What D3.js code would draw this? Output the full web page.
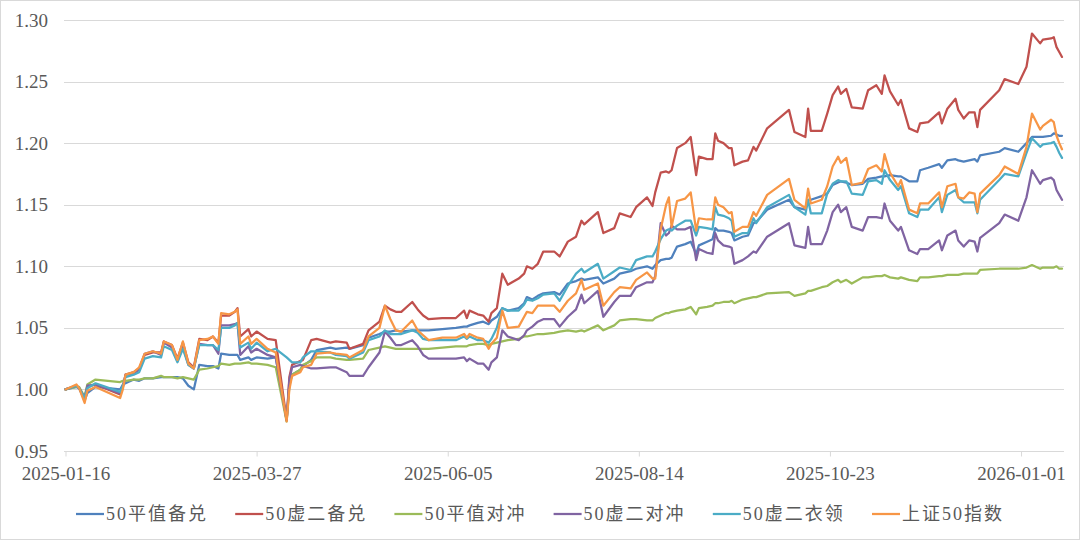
<!DOCTYPE html>
<html><head><meta charset="utf-8">
<script src="https://cdn.jsdelivr.net/npm/d3@7/dist/d3.min.js"></script>
<style>
html,body{margin:0;padding:0;background:#fff;}
svg{display:block;}
text{font-family:"Liberation Serif","Times New Roman","Noto Sans CJK SC",serif;}
</style></head>
<body>
<svg id="chart" width="1080" height="540"></svg>
<script>
const dates = ["2025-01-16","2025-01-20","2025-01-21","2025-01-23","2025-01-24","2025-01-27","2025-02-05","2025-02-06","2025-02-07","2025-02-10","2025-02-12","2025-02-14","2025-02-17","2025-02-20","2025-02-21","2025-02-24","2025-02-26","2025-02-28","2025-03-02","2025-03-04","2025-03-06","2025-03-09","2025-03-11","2025-03-13","2025-03-14","2025-03-17","2025-03-19","2025-03-20","2025-03-21","2025-03-24","2025-03-25","2025-03-27","2025-03-31","2025-04-03","2025-04-07","2025-04-08","2025-04-09","2025-04-12","2025-04-13","2025-04-16","2025-04-18","2025-04-23","2025-04-25","2025-04-29","2025-04-30","2025-05-05","2025-05-07","2025-05-11","2025-05-13","2025-05-15","2025-05-17","2025-05-19","2025-05-23","2025-05-25","2025-05-27","2025-05-29","2025-06-03","2025-06-08","2025-06-11","2025-06-12","2025-06-13","2025-06-16","2025-06-18","2025-06-20","2025-06-21","2025-06-23","2025-06-25","2025-06-27","2025-07-01","2025-07-03","2025-07-04","2025-07-06","2025-07-08","2025-07-10","2025-07-14","2025-07-16","2025-07-19","2025-07-22","2025-07-24","2025-07-25","2025-07-30","2025-08-01","2025-08-05","2025-08-07","2025-08-11","2025-08-13","2025-08-17","2025-08-19","2025-08-20","2025-08-22","2025-08-24","2025-08-25","2025-08-26","2025-08-28","2025-08-31","2025-09-02","2025-09-04","2025-09-05","2025-09-08","2025-09-10","2025-09-11","2025-09-12","2025-09-14","2025-09-16","2025-09-17","2025-09-18","2025-09-21","2025-09-23","2025-09-25","2025-09-26","2025-09-30","2025-10-08","2025-10-10","2025-10-14","2025-10-15","2025-10-16","2025-10-20","2025-10-22","2025-10-24","2025-10-26","2025-10-27","2025-10-29","2025-10-31","2025-11-04","2025-11-06","2025-11-09","2025-11-11","2025-11-12","2025-11-14","2025-11-17","2025-11-18","2025-11-21","2025-11-24","2025-11-25","2025-11-28","2025-12-02","2025-12-03","2025-12-05","2025-12-08","2025-12-09","2025-12-11","2025-12-13","2025-12-15","2025-12-16","2025-12-17","2025-12-24","2025-12-26","2025-12-31","2026-01-03","2026-01-05","2026-01-08","2026-01-09","2026-01-12","2026-01-13","2026-01-14","2026-01-15","2026-01-16"];

const pingBeidui = [1.000,1.002,1.001,0.991,0.997,1.002,1.000,1.004,1.005,1.008,1.007,1.009,1.009,1.010,1.010,1.010,1.010,1.009,1.003,1.000,1.020,1.019,1.019,1.017,1.029,1.028,1.028,1.028,1.024,1.026,1.024,1.026,1.025,1.026,0.975,1.004,1.012,1.016,1.019,1.024,1.032,1.034,1.033,1.034,1.033,1.036,1.042,1.045,1.047,1.047,1.048,1.047,1.048,1.048,1.048,1.048,1.049,1.050,1.051,1.051,1.052,1.054,1.055,1.053,1.056,1.059,1.066,1.064,1.066,1.070,1.075,1.073,1.076,1.078,1.079,1.077,1.086,1.088,1.090,1.089,1.091,1.086,1.090,1.094,1.096,1.098,1.100,1.098,1.101,1.105,1.106,1.106,1.107,1.116,1.118,1.120,1.110,1.117,1.120,1.122,1.131,1.129,1.129,1.128,1.127,1.121,1.124,1.125,1.135,1.136,1.146,1.154,1.148,1.146,1.154,1.154,1.157,1.159,1.166,1.168,1.169,1.168,1.166,1.167,1.171,1.172,1.173,1.173,1.174,1.173,1.173,1.169,1.169,1.178,1.180,1.183,1.180,1.186,1.187,1.186,1.185,1.186,1.187,1.185,1.190,1.193,1.196,1.193,1.200,1.205,1.205,1.205,1.206,1.208,1.207,1.206,1.206];

const xuBeidui = [1.000,1.003,1.001,0.993,1.002,1.004,0.996,1.002,1.012,1.014,1.017,1.028,1.030,1.030,1.039,1.036,1.025,1.038,1.022,1.018,1.041,1.040,1.043,1.038,1.060,1.060,1.063,1.066,1.043,1.049,1.043,1.047,1.041,1.040,0.975,1.010,1.020,1.023,1.024,1.040,1.041,1.038,1.039,1.038,1.033,1.037,1.048,1.055,1.068,1.065,1.063,1.063,1.071,1.065,1.060,1.057,1.058,1.058,1.064,1.058,1.064,1.061,1.060,1.055,1.062,1.066,1.094,1.085,1.090,1.094,1.100,1.098,1.102,1.112,1.112,1.108,1.120,1.124,1.137,1.134,1.144,1.127,1.131,1.143,1.140,1.148,1.156,1.149,1.160,1.176,1.177,1.176,1.178,1.196,1.200,1.205,1.174,1.189,1.187,1.187,1.208,1.202,1.200,1.196,1.196,1.182,1.185,1.186,1.197,1.194,1.212,1.227,1.209,1.205,1.228,1.210,1.210,1.224,1.239,1.246,1.240,1.244,1.229,1.228,1.243,1.247,1.240,1.255,1.242,1.231,1.235,1.212,1.209,1.216,1.217,1.225,1.216,1.228,1.236,1.227,1.220,1.225,1.225,1.213,1.227,1.243,1.252,1.248,1.262,1.289,1.281,1.284,1.285,1.286,1.278,1.274,1.270];

const pingDuichong = [1.000,1.002,1.002,0.994,1.004,1.008,1.006,1.007,1.007,1.008,1.008,1.009,1.009,1.011,1.010,1.010,1.009,1.010,1.009,1.008,1.016,1.017,1.018,1.019,1.021,1.020,1.021,1.021,1.021,1.022,1.021,1.021,1.020,1.018,0.974,1.003,1.012,1.016,1.020,1.023,1.026,1.026,1.025,1.024,1.024,1.025,1.032,1.034,1.035,1.034,1.033,1.033,1.033,1.033,1.033,1.033,1.034,1.035,1.035,1.035,1.036,1.037,1.037,1.036,1.037,1.038,1.039,1.040,1.041,1.043,1.043,1.044,1.045,1.045,1.046,1.047,1.048,1.047,1.048,1.047,1.052,1.048,1.052,1.056,1.057,1.057,1.056,1.056,1.058,1.060,1.062,1.062,1.063,1.064,1.065,1.067,1.061,1.066,1.067,1.068,1.070,1.070,1.071,1.071,1.072,1.070,1.073,1.074,1.075,1.075,1.078,1.079,1.076,1.078,1.080,1.080,1.083,1.084,1.087,1.089,1.087,1.089,1.086,1.091,1.091,1.092,1.092,1.093,1.091,1.090,1.091,1.089,1.088,1.091,1.091,1.092,1.092,1.093,1.093,1.093,1.094,1.094,1.094,1.094,1.097,1.098,1.098,1.098,1.099,1.101,1.098,1.099,1.099,1.099,1.100,1.098,1.098];

const xuDuichong = [1.000,1.003,1.001,0.993,1.003,1.004,0.997,1.002,1.012,1.013,1.016,1.029,1.031,1.028,1.038,1.034,1.023,1.035,1.020,1.017,1.037,1.036,1.036,1.029,1.052,1.052,1.053,1.054,1.028,1.035,1.030,1.033,1.028,1.026,0.975,1.008,1.018,1.020,1.019,1.017,1.017,1.018,1.018,1.014,1.011,1.011,1.018,1.030,1.047,1.042,1.036,1.036,1.040,1.035,1.028,1.025,1.025,1.025,1.026,1.023,1.025,1.021,1.021,1.016,1.022,1.026,1.048,1.043,1.040,1.044,1.048,1.051,1.055,1.057,1.057,1.051,1.059,1.065,1.077,1.070,1.080,1.059,1.071,1.076,1.076,1.083,1.087,1.087,1.092,1.135,1.125,1.127,1.133,1.130,1.130,1.132,1.105,1.114,1.111,1.110,1.127,1.121,1.117,1.116,1.115,1.102,1.105,1.108,1.112,1.111,1.124,1.135,1.117,1.115,1.132,1.118,1.118,1.129,1.144,1.150,1.144,1.148,1.132,1.129,1.140,1.140,1.139,1.151,1.137,1.129,1.132,1.113,1.110,1.114,1.114,1.121,1.113,1.125,1.129,1.121,1.116,1.121,1.120,1.112,1.123,1.135,1.142,1.137,1.156,1.178,1.167,1.170,1.172,1.170,1.162,1.158,1.154];

const xuYiling = [1.000,1.003,1.001,0.993,1.001,1.005,0.998,1.003,1.010,1.012,1.014,1.025,1.027,1.026,1.035,1.032,1.022,1.033,1.020,1.017,1.036,1.036,1.036,1.032,1.050,1.050,1.052,1.054,1.034,1.038,1.033,1.038,1.031,1.033,1.026,1.024,1.022,1.022,1.026,1.031,1.031,1.030,1.028,1.027,1.025,1.030,1.040,1.043,1.048,1.045,1.045,1.045,1.048,1.046,1.041,1.040,1.040,1.040,1.043,1.041,1.043,1.040,1.040,1.038,1.041,1.050,1.066,1.064,1.064,1.069,1.073,1.072,1.074,1.077,1.078,1.072,1.084,1.094,1.098,1.095,1.102,1.090,1.096,1.099,1.097,1.105,1.108,1.108,1.112,1.122,1.129,1.130,1.129,1.133,1.137,1.137,1.125,1.132,1.131,1.130,1.148,1.142,1.141,1.139,1.137,1.124,1.127,1.127,1.139,1.135,1.148,1.158,1.148,1.142,1.154,1.143,1.143,1.159,1.167,1.170,1.169,1.169,1.159,1.158,1.169,1.170,1.167,1.178,1.170,1.162,1.165,1.143,1.140,1.146,1.146,1.156,1.144,1.158,1.162,1.156,1.152,1.152,1.152,1.143,1.154,1.170,1.175,1.173,1.192,1.204,1.197,1.199,1.200,1.201,1.197,1.192,1.188];

const sz50 = [1.000,1.004,1.001,0.989,0.999,1.002,0.993,1.000,1.012,1.014,1.018,1.029,1.031,1.029,1.039,1.036,1.024,1.039,1.021,1.017,1.040,1.041,1.043,1.037,1.062,1.061,1.063,1.065,1.037,1.043,1.037,1.041,1.033,1.030,0.974,1.000,1.011,1.014,1.018,1.020,1.029,1.030,1.029,1.028,1.026,1.032,1.043,1.050,1.068,1.057,1.048,1.047,1.056,1.048,1.044,1.040,1.042,1.042,1.045,1.042,1.045,1.042,1.041,1.033,1.037,1.042,1.064,1.050,1.051,1.059,1.063,1.062,1.068,1.068,1.068,1.063,1.072,1.078,1.089,1.081,1.086,1.068,1.079,1.083,1.082,1.089,1.095,1.090,1.090,1.130,1.150,1.156,1.132,1.153,1.155,1.160,1.129,1.139,1.138,1.138,1.156,1.150,1.148,1.143,1.144,1.128,1.132,1.132,1.144,1.141,1.158,1.171,1.154,1.147,1.163,1.151,1.154,1.165,1.181,1.189,1.184,1.188,1.166,1.168,1.179,1.182,1.177,1.191,1.176,1.165,1.170,1.146,1.143,1.151,1.151,1.160,1.148,1.165,1.167,1.156,1.155,1.160,1.159,1.144,1.159,1.174,1.181,1.175,1.197,1.224,1.211,1.214,1.219,1.217,1.206,1.200,1.195];

const seriesNames = ["50平值备兑","50虚二备兑","50平值对冲","50虚二对冲","50虚二衣领","上证50指数"];
const seriesColors = ["#4F81BD","#C0504D","#9BBB59","#8064A2","#4BACC6","#F79646"];
const seriesValues = [pingBeidui, xuBeidui, pingDuichong, xuDuichong, xuYiling, sz50];
const xTickLabels = ["2025-01-16","2025-03-27","2025-06-05","2025-08-14","2025-10-23","2026-01-01"];
const yTickLabels = ["0.95","1.00","1.05","1.10","1.15","1.20","1.25","1.30"];

const parse = d3.timeParse("%Y-%m-%d");
const svg = d3.select("#chart");
const W = 1080, H = 540;
const serif = '"Liberation Serif","Times New Roman",serif';

svg.append("rect").attr("x",0.5).attr("y",0.5).attr("width",W-1).attr("height",H-1)
  .attr("fill","#fff").attr("stroke","#d9d9d9").attr("stroke-width",1);

const x = d3.scaleTime().domain([parse(dates[0]), parse(dates[dates.length-1])]).range([65.5, 1062]);
const yTicks = yTickLabels.map(Number);
const y = d3.scaleLinear().domain([yTicks[0], yTicks[yTicks.length-1]]).range([451, 20]);

// gridlines
svg.append("g").selectAll("line").data(yTicks.slice(1)).join("line")
  .attr("x1", 64).attr("x2", 1064)
  .attr("y1", d => Math.round(y(d))+0.5).attr("y2", d => Math.round(y(d))+0.5)
  .attr("stroke","#d9d9d9").attr("stroke-width",1);

// y labels
const yAxis = d3.axisLeft(y).tickValues(yTicks).tickFormat((d,i)=>yTickLabels[i]).tickSize(0).tickPadding(0);
const gy = svg.append("g").attr("transform","translate(48,0)").call(yAxis);
gy.select(".domain").remove();
gy.selectAll("text").attr("font-size","19px").attr("fill","#595959").style("font-family",serif);

// x axis
const xAxis = d3.axisBottom(x).tickValues(xTickLabels.map(parse))
  .tickFormat((d,i)=>xTickLabels[i]).tickSizeInner(5).tickSizeOuter(0).tickPadding(10);
const gx = svg.append("g").attr("transform", `translate(0,${Math.round(y(yTicks[0]))+0.5})`).call(xAxis);
gx.select(".domain").attr("d","M64,0H1064").attr("stroke","#d9d9d9");
gx.selectAll(".tick line").attr("stroke","#d9d9d9");
gx.selectAll("text").attr("font-size","19px").attr("fill","#595959").style("font-family",serif);

// lines
const line = d3.line().x((d,i)=>x(parse(dates[i]))).y(d=>y(d)).curve(d3.curveLinear);
seriesValues.forEach((vals,k)=>{
  svg.append("path").datum(vals).attr("d", line)
    .attr("fill","none").attr("stroke",seriesColors[k]).attr("stroke-width",2.25)
    .attr("stroke-linejoin","round").attr("stroke-linecap","round");
});

// legend
const leg = svg.append("g").attr("transform","translate(76,514)");
seriesNames.forEach((name,k)=>{
  const g = leg.append("g").attr("transform",`translate(${k*159.2},0)`);
  g.append("line").attr("x1",0).attr("x2",28).attr("y1",0).attr("y2",0)
    .attr("stroke",seriesColors[k]).attr("stroke-width",2.25);
  g.append("text").attr("x",30).attr("y",0).attr("dy","0.36em")
    .attr("font-size","18px").attr("fill","#595959").attr("letter-spacing","2px")
    .style("font-family",'"Liberation Serif","Noto Sans CJK SC",serif')
    .text(name);
});
</script>
</body></html>
